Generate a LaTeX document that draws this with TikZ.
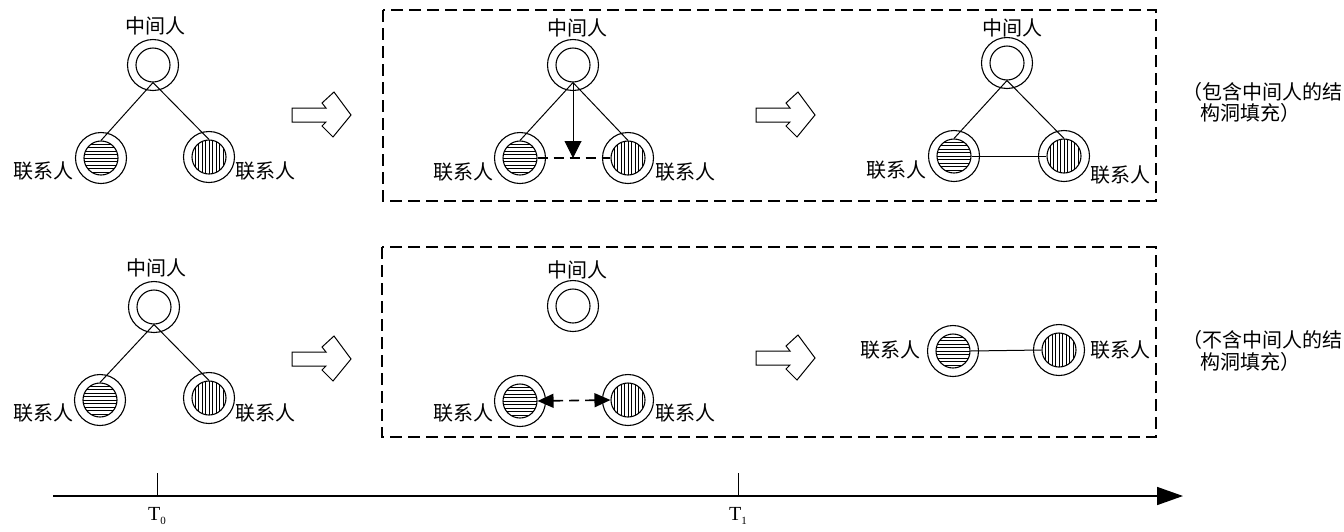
\documentclass[tikz,border=0pt]{standalone}
\usepackage{fontspec}
\setmainfont{Liberation Serif}
\newfontfamily\cjk{Noto Sans CJK SC}
\usetikzlibrary{arrows.meta,calc}
\tikzset{
  outerc/.style={circle,draw,minimum size=51pt,inner sep=0pt,line width=1.1pt},
  innerc/.style={circle,draw,minimum size=34pt,inner sep=0pt,line width=1.1pt},
  hatchH/.style={innerc,path picture={\foreach \k in {-14,-10.5,...,14} {\draw[line width=0.8pt] ([yshift=\k pt]path picture bounding box.west) -- ([yshift=\k pt]path picture bounding box.east);}}},
  hatchV/.style={innerc,path picture={\foreach \k in {-14,-10.5,...,14} {\draw[line width=0.8pt] ([xshift=\k pt]path picture bounding box.north) -- ([xshift=\k pt]path picture bounding box.south);}}},
  lab/.style={font=\cjk\fontsize{20}{24}\selectfont,inner sep=0pt},
  link/.style={line width=1pt},
  dlink/.style={line width=1.6pt,dash pattern=on 10pt off 6pt},
  frame/.style={line width=1.5pt,dash pattern=on 12pt off 6pt},
  hollow/.pic={\draw[line width=1pt,line join=miter] (0,-7) -- (34,-7) -- (30,-12) -- (42,-23) -- (59,0) -- (41,22) -- (30,11) -- (34,7) -- (0,7) -- cycle;}
}
\begin{document}
\begin{tikzpicture}[x=1pt,y=-1pt]
\useasboundingbox (0,0) rectangle (1344,531);
% ---------- Panel A (top left)
\node[outerc] (AMo) at (153,65) {}; \node[innerc] (AMi) at (153,65) {};
\node[outerc] (ALo) at (101,158) {}; \node[hatchH] (ALi) at (101,158) {};
\node[outerc] (ARo) at (209,157) {}; \node[hatchV] (ARi) at (209,157) {};
\node[lab] (AMt) at (155,26) {中间人};
\node[lab] (ALt) at (43,171) {联系人};
\node[lab] (ARt) at (265,171) {联系人};
\draw[link] (AMi.south) -- (ALi.north);
\draw[link] (AMi.south) -- (ARi.north);
\pic at (292,115) {hollow};
% ---------- Panel B (top middle)
\draw[frame] (383,10) rectangle (1156,201);
\node[outerc] (BMo) at (573,65) {}; \node[innerc] (BMi) at (573,65) {};
\node[outerc] (BLo) at (520,158) {}; \node[hatchH] (BLi) at (520,158) {};
\node[outerc] (BRo) at (628,158) {}; \node[hatchV] (BRi) at (628,158) {};
\node[lab] (BMt) at (577,28) {中间人};
\node[lab] (BLt) at (463,172) {联系人};
\node[lab] (BRt) at (685,172) {联系人};
\draw[link] (BMi.south) -- (BLi.north);
\draw[link] (BMi.south) -- (BRi.north);
\draw[dlink] (BLi.east) -- (BRi.west);
\coordinate (Bc) at (573,158);
\draw[link,-{Triangle[length=17pt,width=17pt]}] (BMi.south) -- (BMi.south |- Bc);
\pic at (756,115) {hollow};
% ---------- Panel C (top right)
\node[outerc] (CMo) at (1007,63) {}; \node[innerc] (CMi) at (1007,63) {};
\node[outerc] (CLo) at (954,156) {}; \node[hatchH] (CLi) at (954,156) {};
\node[outerc] (CRo) at (1064,156) {}; \node[hatchV] (CRi) at (1064,156) {};
\node[lab] (CMt) at (1012,28) {中间人};
\node[lab] (CLt) at (896,170) {联系人};
\node[lab] (CRt) at (1120,175) {联系人};
\draw[link] (CMi.south) -- (CLi.north);
\draw[link] (CMi.south) -- (CRi.north);
\draw[link] (CLi.east) -- (CRi.west);
\node[lab,anchor=east] (Ct1) at (1343,92) {（包含中间人的结};
\node[lab,anchor=west] (Ct2) at (1200,113) {构洞填充）};
% ---------- Panel D (bottom left)
\node[outerc] (DMo) at (154,307) {}; \node[innerc] (DMi) at (154,307) {};
\node[outerc] (DLo) at (100,400) {}; \node[hatchH] (DLi) at (100,400) {};
\node[outerc] (DRo) at (209,398) {}; \node[hatchV] (DRi) at (209,398) {};
\node[lab] (DMt) at (156,268) {中间人};
\node[lab] (DLt) at (43,413) {联系人};
\node[lab] (DRt) at (265,413) {联系人};
\draw[link] (DMi.south) -- (DLi.north);
\draw[link] (DMi.south) -- (DRi.north);
\pic at (292,359) {hollow};
% ---------- Panel E (bottom middle)
\draw[frame] (382,247) rectangle (1156,437);
\node[outerc] (EMo) at (573,306) {}; \node[innerc] (EMi) at (573,306) {};
\node[outerc] (ELo) at (520,401) {}; \node[hatchH] (ELi) at (520,401) {};
\node[outerc] (ERo) at (628,400) {}; \node[hatchV] (ERi) at (628,400) {};
\node[lab] (EMt) at (577,270) {中间人};
\node[lab] (ELt) at (463,413) {联系人};
\node[lab] (ERt) at (685,413) {联系人};
\draw[dlink,{Triangle[length=16pt,width=14pt]}-{Triangle[length=16pt,width=14pt]}] (ELi.east) -- (ERi.west);
\pic at (756,358) {hollow};
% ---------- Panel F (bottom right)
\node[outerc] (FLo) at (953,351) {}; \node[hatchH] (FLi) at (953,351) {};
\node[outerc] (FRo) at (1059,350) {}; \node[hatchV] (FRi) at (1059,350) {};
\node[lab] (FLt) at (890,350) {联系人};
\node[lab] (FRt) at (1120,350) {联系人};
\draw[link] (FLi.east) -- (FRi.west);
\node[lab,anchor=east] (Ft1) at (1343,340) {（不含中间人的结};
\node[lab,anchor=west] (Ft2) at (1200,362) {构洞填充）};
% ---------- Time axis
\coordinate (ax0) at (53,496);
\coordinate (ax1) at (1183,496);
\draw[line width=1.6pt,-{Triangle[length=26pt,width=18pt]}] (ax0) -- (ax1);
\coordinate (t0) at (157,473);
\coordinate (t1) at (738,473);
\draw[link] (t0) -- (t0 |- ax0);
\draw[link] (t1) -- (t1 |- ax0);
\node[font=\fontsize{20}{24}\selectfont,inner sep=0pt] (T0) at (157,516) {T\raisebox{-0.45ex}{\fontsize{11}{12}\selectfont 0}};
\node[font=\fontsize{20}{24}\selectfont,inner sep=0pt] (T1) at (738,516) {T\raisebox{-0.45ex}{\fontsize{11}{12}\selectfont 1}};
\end{tikzpicture}
\end{document}
